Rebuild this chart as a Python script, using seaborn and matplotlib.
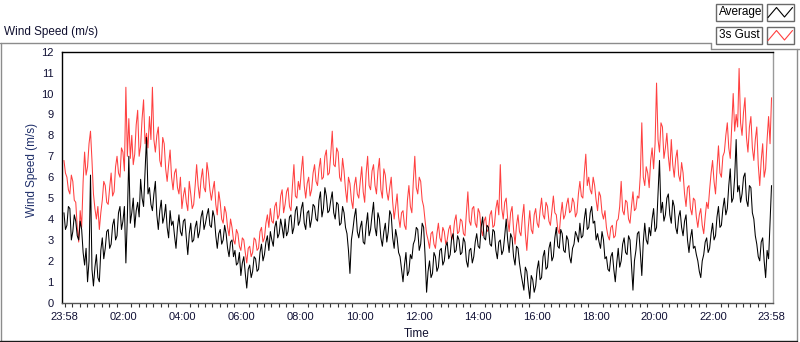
import matplotlib
matplotlib.use("Agg")
import matplotlib.pyplot as plt
from matplotlib.lines import Line2D
from matplotlib.patches import Rectangle
import numpy as np
import pandas as pd
import seaborn as sns

# readings every 3 minutes from 23:58 to 23:58 the next day (m/s)
step_min = 3
average = [
    4.3, 3.5, 3.7, 4.6, 4.5, 3.0, 3.4, 4.2, 3.9, 3.2, 3.0, 3.9, 3.5, 2.4, 1.8, 2.6, 1.0, 2.0, 6.1, 1.6,
    0.8, 1.7, 2.3, 1.2, 1.0, 2.5, 3.1, 2.1, 2.6, 3.4, 3.5, 2.6, 2.8, 3.7, 4.0, 3.0, 3.2, 4.3, 4.6, 3.5,
    3.9, 4.6, 1.9, 4.1, 7.0, 3.8, 4.3, 5.0, 3.6, 4.4, 4.8, 4.1, 5.9, 5.0, 4.6, 6.3, 7.9, 5.2, 5.5, 4.7,
    4.4, 5.2, 5.8, 4.2, 3.5, 4.4, 4.9, 3.8, 4.1, 4.7, 3.6, 3.1, 4.4, 3.7, 3.9, 3.2, 2.6, 3.6, 4.2, 3.4,
    3.2, 3.9, 4.0, 3.1, 2.3, 3.3, 3.8, 2.9, 3.0, 3.6, 3.9, 3.1, 3.4, 4.1, 4.4, 3.5, 3.8, 4.2, 4.5, 3.7,
    3.6, 4.4, 4.1, 3.2, 2.6, 3.3, 3.5, 2.8, 3.0, 3.7, 3.3, 2.6, 2.2, 2.9, 3.0, 2.2, 2.5, 1.8, 1.9, 2.4,
    1.3, 1.9, 2.2, 1.4, 0.7, 1.6, 1.8, 1.2, 1.5, 2.2, 2.1, 1.5, 1.6, 2.4, 2.8, 2.0, 2.3, 2.9, 3.2, 2.5,
    3.4, 3.0, 2.7, 3.6, 3.9, 3.1, 3.3, 4.0, 3.6, 3.1, 4.0, 3.2, 3.4, 4.1, 4.2, 3.3, 3.6, 4.4, 4.6, 3.7,
    3.9, 4.5, 4.8, 3.8, 3.5, 4.3, 4.4, 3.6, 4.0, 4.7, 4.6, 4.0, 3.9, 4.9, 5.3, 4.1, 4.5, 5.5, 5.1, 4.3,
    4.4, 4.9, 5.3, 4.3, 4.0, 4.8, 4.7, 3.7, 3.8, 4.6, 4.3, 3.6, 3.3, 2.5, 1.4, 3.0, 3.5, 4.1, 4.5, 3.4,
    3.1, 3.6, 3.9, 2.9, 2.8, 3.7, 4.3, 3.2, 3.5, 4.2, 4.8, 3.6, 3.2, 4.3, 4.0, 3.1, 2.7, 3.4, 3.8, 2.9,
    3.4, 4.4, 4.2, 3.1, 2.6, 3.5, 3.1, 2.4, 2.2, 1.6, 1.0, 1.8, 2.4, 1.3, 1.5, 2.3, 2.1, 2.8, 3.0, 3.6,
    3.5, 2.5, 2.8, 3.8, 3.6, 2.2, 0.5, 1.5, 2.0, 1.2, 1.4, 2.4, 2.2, 1.5, 1.7, 2.5, 2.6, 1.8, 2.0, 2.7,
    2.9, 2.1, 2.3, 3.1, 3.3, 2.4, 2.5, 3.2, 3.0, 2.3, 2.4, 3.1, 2.9, 2.0, 1.7, 2.5, 2.6, 1.9, 2.2, 2.9,
    3.3, 2.7, 2.6, 3.6, 4.1, 3.1, 3.0, 3.7, 3.6, 2.8, 2.7, 3.5, 3.4, 2.5, 2.1, 2.9, 3.0, 2.3, 2.5, 3.2,
    4.0, 3.0, 2.4, 3.3, 3.1, 2.2, 1.8, 2.7, 2.6, 1.9, 1.4, 1.0, 0.6, 1.7, 1.5, 0.8, 0.2, 1.3, 1.1, 0.5,
    0.8, 1.6, 2.0, 1.1, 1.2, 2.2, 2.5, 1.6, 1.7, 2.6, 2.9, 2.0, 2.2, 3.1, 3.6, 2.7, 2.6, 3.5, 3.3, 2.5,
    2.4, 3.2, 3.0, 2.2, 1.9, 2.6, 2.8, 3.4, 3.2, 2.9, 3.8, 3.1, 3.2, 4.0, 4.5, 3.5, 3.6, 4.3, 4.6, 3.8,
    3.9, 3.0, 3.3, 2.9, 2.6, 3.4, 3.0, 2.1, 2.2, 1.6, 1.5, 2.2, 2.4, 1.6, 1.0, 1.9, 2.6, 1.7, 2.0, 2.8,
    3.1, 2.4, 2.3, 3.2, 3.0, 1.8, 0.6, 2.0, 2.5, 3.3, 3.4, 2.4, 1.3, 2.9, 3.8, 3.0, 2.8, 3.6, 3.2, 4.0,
    4.5, 3.4, 3.6, 5.2, 6.8, 4.3, 4.8, 3.9, 4.2, 5.0, 5.2, 4.2, 3.8, 4.9, 4.6, 3.6, 3.3, 4.1, 4.4, 3.6,
    3.2, 3.9, 4.2, 3.0, 2.4, 3.1, 3.5, 2.6, 2.7, 2.3, 2.0, 1.5, 1.2, 2.0, 2.3, 2.9, 3.1, 2.4, 2.6, 3.3,
    3.8, 3.0, 3.2, 4.1, 4.6, 3.6, 3.7, 4.5, 5.0, 4.2, 4.5, 5.6, 6.4, 4.8, 5.0, 6.0, 7.8, 5.3, 5.6, 4.8,
    5.2, 6.0, 6.2, 4.9, 4.6, 5.6, 5.5, 4.3, 4.0, 3.2, 2.8, 2.2, 2.0, 2.9, 3.1, 2.0, 1.2, 2.5, 2.1, 3.8,
    5.6,
]
gust = [
    6.8, 6.2, 6.0, 5.4, 5.2, 6.1, 5.8, 4.9, 4.8, 3.6, 2.9, 4.4, 3.6, 5.8, 7.2, 6.1, 6.5, 7.6, 8.2, 6.8,
    5.2, 4.5, 4.0, 4.6, 3.5, 4.3, 4.9, 5.8, 5.6, 4.8, 4.7, 5.5, 6.2, 5.1, 5.3, 6.5, 7.0, 6.2, 6.0, 7.4,
    7.2, 6.3, 10.3, 7.0, 8.8, 6.9, 8.0, 6.6, 7.1, 8.5, 9.2, 7.0, 7.5, 8.8, 9.7, 7.6, 8.1, 7.4, 8.9, 7.8,
    10.3, 7.8, 7.2, 8.0, 8.4, 6.8, 6.5, 7.9, 7.6, 6.4, 5.8, 6.6, 7.3, 6.0, 5.4, 6.2, 6.4, 5.5, 5.2, 6.0,
    4.5, 5.1, 5.5, 4.8, 4.4, 5.8, 5.2, 4.5, 4.7, 5.6, 6.6, 5.6, 5.0, 5.9, 6.4, 5.5, 5.3, 6.7, 6.2, 5.4,
    4.9, 5.4, 5.8, 4.7, 4.2, 5.3, 4.8, 4.0, 3.8, 4.6, 4.3, 3.6, 3.2, 4.0, 3.6, 3.0, 2.8, 3.5, 3.3, 2.7,
    2.5, 3.1, 3.0, 2.4, 1.9, 2.6, 2.7, 2.2, 2.4, 3.1, 3.0, 2.5, 2.6, 3.4, 3.6, 2.9, 3.1, 3.8, 4.2, 3.6,
    4.5, 3.9, 3.8, 4.6, 4.8, 4.0, 4.2, 5.1, 5.4, 4.3, 4.7, 5.3, 5.5, 4.6, 4.4, 5.6, 6.6, 5.1, 5.0, 5.8,
    5.4, 6.3, 7.0, 5.6, 5.0, 5.7, 6.0, 5.1, 5.4, 6.2, 6.6, 5.8, 5.6, 6.4, 6.9, 5.9, 6.0, 7.0, 7.3, 6.1,
    6.2, 7.1, 8.2, 6.6, 6.5, 7.4, 7.2, 6.0, 5.8, 6.9, 6.3, 5.4, 4.8, 6.0, 5.7, 4.9, 4.5, 5.6, 6.0, 5.2,
    5.0, 5.8, 6.5, 5.3, 4.8, 6.2, 7.0, 5.6, 5.4, 6.3, 6.6, 5.6, 5.2, 6.3, 6.9, 5.4, 5.0, 6.4, 6.1, 5.3,
    4.9, 5.5, 6.0, 4.8, 4.0, 4.6, 5.2, 4.1, 3.6, 4.3, 4.4, 3.7, 3.5, 4.9, 5.6, 4.6, 4.3, 5.8, 7.0, 5.5,
    5.2, 6.0, 5.8, 4.9, 4.6, 3.9, 3.3, 3.0, 2.6, 3.3, 3.4, 2.8, 2.6, 3.3, 3.8, 3.1, 2.9, 3.6, 3.4, 2.8,
    3.0, 3.5, 3.7, 3.0, 3.2, 3.9, 4.2, 3.3, 3.4, 4.0, 3.9, 3.3, 3.2, 4.3, 5.3, 3.9, 3.7, 4.5, 4.6, 3.8,
    3.6, 4.5, 4.3, 3.5, 3.2, 3.9, 4.1, 3.4, 3.5, 4.2, 4.4, 3.6, 3.7, 4.5, 4.9, 4.2, 6.6, 4.5, 4.0, 4.8,
    5.0, 4.0, 3.4, 4.3, 4.6, 3.5, 2.8, 3.7, 4.2, 3.4, 3.2, 4.1, 4.7, 3.3, 2.5, 3.6, 4.4, 3.5, 3.3, 4.2,
    4.5, 3.8, 3.6, 4.4, 5.0, 4.2, 4.0, 4.8, 4.6, 3.9, 3.7, 4.4, 5.1, 4.3, 4.2, 3.5, 3.3, 4.2, 4.8, 4.0,
    4.2, 4.7, 5.0, 4.3, 4.4, 5.0, 4.8, 4.1, 4.3, 5.2, 5.8, 5.1, 5.0, 6.2, 7.1, 5.6, 6.0, 5.4, 5.2, 6.0,
    5.6, 4.9, 4.4, 5.3, 5.1, 4.3, 4.0, 4.4, 3.6, 3.2, 3.0, 3.6, 3.7, 3.1, 3.2, 3.9, 4.0, 4.6, 5.8, 4.4,
    4.2, 4.9, 4.8, 4.0, 3.8, 4.6, 5.3, 4.4, 4.5, 5.1, 5.0, 6.1, 8.6, 6.0, 5.6, 6.5, 6.2, 5.5, 6.8, 7.4,
    6.4, 7.6, 10.5, 7.8, 7.2, 8.6, 8.4, 6.9, 7.4, 8.1, 7.0, 6.3, 7.8, 6.6, 6.0, 6.9, 7.3, 6.1, 5.8, 6.7,
    6.2, 5.2, 4.6, 5.5, 5.6, 4.5, 4.2, 5.0, 4.9, 4.1, 3.6, 4.2, 4.5, 3.7, 3.3, 4.1, 4.8, 4.5, 5.4, 6.2,
    6.8, 5.8, 5.2, 6.4, 7.5, 6.2, 6.0, 7.0, 7.2, 8.0, 8.6, 7.4, 6.9, 8.5, 10.0, 8.2, 9.0, 8.4, 11.2, 8.6,
    8.0, 9.1, 9.8, 7.9, 7.2, 8.4, 8.9, 7.4, 6.8, 7.8, 8.4, 6.6, 5.6, 6.8, 7.6, 6.0, 6.4, 7.8, 8.9, 7.6,
    9.8,
]
time_labels = ["23:58", "02:00", "04:00", "06:00", "08:00", "10:00", "12:00",
               "14:00", "16:00", "18:00", "20:00", "22:00", "23:58"]
y_ticks = list(range(0, 13))

W, H = 800, 342
minutes = np.arange(len(average)) * step_min
df = pd.DataFrame({"Time": minutes, "Average": average, "3s Gust": gust})


def label_to_min(lab):
    h, m = map(int, lab.split(":"))
    return ((h * 60 + m) - (23 * 60 + 58)) % 1440


tick_pos = [0] + [label_to_min(l) for l in time_labels[1:-1]] + [1440]

sns.set_style("white")
plt.rcParams["font.family"] = ["Liberation Sans", "DejaVu Sans"]

fig = plt.figure(figsize=(W / 100, H / 100), dpi=100)
ax = fig.add_axes([62 / W, (H - 302.7) / H, 711 / W, 251 / H])

sns.lineplot(data=df, x="Time", y="3s Gust", color="#ff4040", lw=0.75, ax=ax)
sns.lineplot(data=df, x="Time", y="Average", color="black", lw=0.75, ax=ax)

ax.set_xlim(-4, 1443)
ax.set_ylim(0, 12)
ax.set_xticks(tick_pos)
ax.set_xticklabels(time_labels)
ax.set_xticks([m for m in range(2, 1440, 15) if m not in tick_pos], minor=True)
ax.set_yticks(y_ticks)
ax.set_xlabel("")
ax.set_ylabel("")

ax.tick_params(axis="both", which="major", direction="out", length=4, width=1.4,
               color="#333333", labelsize=8, labelcolor="#101035", pad=2.5)
ax.tick_params(axis="x", which="minor", direction="out", length=3, width=0.8,
               color="#333333", bottom=True)
ax.tick_params(axis="y", which="major", width=1.0, length=4.5, pad=1.5)

for side, col in [("left", "black"), ("top", "black"), ("bottom", "#555555"), ("right", "#9a9a9a")]:
    ax.spines[side].set_visible(True)
    ax.spines[side].set_color(col)
    ax.spines[side].set_linewidth(1.0)


def fx(x):
    return x / W


def fy(y):
    return 1 - y / H


def hline(x0, x1, y, col, lw=1.0):
    fig.add_artist(Line2D([fx(x0), fx(x1)], [fy(y), fy(y)], transform=fig.transFigure, color=col, lw=lw))


def vline(x, y0, y1, col, lw=1.0):
    fig.add_artist(Line2D([fx(x), fx(x)], [fy(y0), fy(y1)], transform=fig.transFigure, color=col, lw=lw))


# outer frame
hline(0, 711, 42.5, "#8c8c8c")
vline(711, 42.5, 48.5, "#8c8c8c")
hline(711, 800, 48.5, "#8c8c8c")
vline(0.5, 42.5, 341, "#8c8c8c")
vline(797, 48.5, 341, "#8c8c8c")
hline(0, 797, 340.5, "#1a1a1a")

# texts
fig.text(fx(4), fy(31.5), "Wind Speed (m/s)", fontsize=8.5, color="#101030", va="center", ha="left")
fig.text(fx(32), fy(170), "Wind Speed (m/s)", fontsize=8.5, color="#1f2f6a", rotation=90,
         va="center", ha="center")
fig.text(fx(417), fy(334), "Time", fontsize=8.5, color="#101030", va="center", ha="center")

# legend
legend_rows = [("Average", "black", 4), ("3s Gust", "#ff4040", 27)]
for name, col, top in legend_rows:
    for x0, x1 in [(716, 762), (767, 794)]:
        fig.add_artist(Rectangle((fx(x0), fy(top + 17)), fx(x1) - fx(x0), (17) / H,
                                 transform=fig.transFigure, facecolor="white",
                                 edgecolor="#6a6a6a", lw=1.0))
    fig.text(fx(719), fy(top + 8.5), name, fontsize=8.5, color="black", va="center", ha="left")
    zx = [768, 776.5, 784.5, 792.5]
    zy = [top + 13.5, top + 3.5, top + 13, top + 3.5]
    fig.add_artist(Line2D([fx(v) for v in zx], [fy(v) for v in zy], transform=fig.transFigure,
                          color=col, lw=0.8))

fig.savefig("out.png", dpi=100, facecolor="white")
